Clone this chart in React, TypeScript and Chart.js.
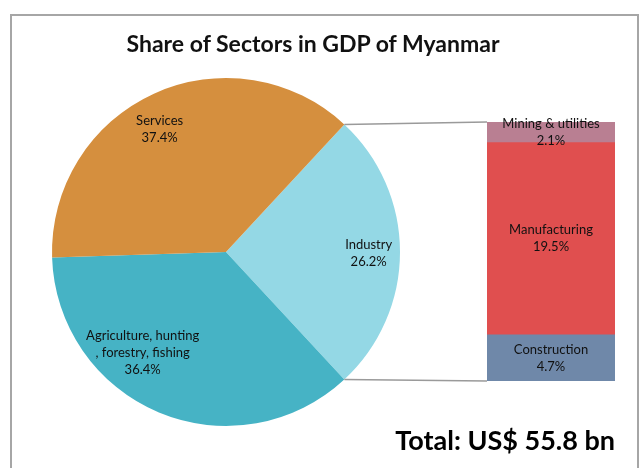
import React, { useEffect, useRef } from "react";
import { Chart, registerables } from "chart.js";

Chart.register(...registerables);

const pieCategories = ["Industry", "Agriculture, hunting , forestry, fishing", "Services"];
const pieLabelLines = [["Industry"], ["Agriculture, hunting", ", forestry, fishing"], ["Services"]];
const pieValues = [26.2, 36.4, 37.4];
const pieColors = ["#94D8E5", "#46B3C5", "#D58F3E"];

const barCategories = ["Construction", "Manufacturing", "Mining & utilities"];
const barValues = [4.7, 19.5, 2.1];
const barColors = ["#6F88A9", "#E04F4F", "#B97F92"];

const titleText = "Share of Sectors in GDP of Myanmar";
const totalText = "Total: US$ 55.8 bn";

const W = 640;
const H = 468;
const FONT = "Lato, 'Open Sans', sans-serif";

// label placement tweaks (relative to arc geometry)
const pieLabelAngleShift = [0.5, 17, -4];
const pieLabelRadius = [0.82, 0.75, 0.8];

export default function App() {
  const pieRef = useRef<HTMLCanvasElement>(null);
  const barRef = useRef<HTMLCanvasElement>(null);

  useEffect(() => {
    const total = pieValues.reduce((a, b) => a + b, 0);
    const rotation = 90 - (pieValues[0] / total) * 180;

    const pieLabelPlugin = {
      id: "pieLabels",
      afterDatasetsDraw(chart: any) {
        const ctx = chart.ctx;
        const meta = chart.getDatasetMeta(0);
        ctx.save();
        ctx.font = `13px ${FONT}`;
        ctx.fillStyle = "#111";
        ctx.textAlign = "center";
        ctx.textBaseline = "middle";
        meta.data.forEach((arc: any, i: number) => {
          const mid = (arc.startAngle + arc.endAngle) / 2 + (pieLabelAngleShift[i] * Math.PI) / 180;
          const r = arc.outerRadius * pieLabelRadius[i];
          const cx = arc.x + Math.cos(mid) * r;
          const cy = arc.y + Math.sin(mid) * r;
          const lines = [...pieLabelLines[i], pieValues[i].toFixed(1) + "%"];
          const lh = 17;
          const y0 = cy - ((lines.length - 1) * lh) / 2;
          lines.forEach((t, k) => ctx.fillText(t, cx, y0 + k * lh));
        });
        ctx.restore();
      },
    };

    const pie = new Chart(pieRef.current!, {
      type: "pie",
      data: {
        labels: pieCategories,
        datasets: [{ data: pieValues, backgroundColor: pieColors, borderWidth: 0 }],
      },
      options: {
        responsive: false,
        animation: false,
        rotation,
        layout: { padding: { left: 52, right: 240, top: 78, bottom: 42 } },
        plugins: { legend: { display: false }, tooltip: { enabled: false }, title: { display: false } },
      },
      plugins: [pieLabelPlugin],
    });

    const barSum = barValues.reduce((a, b) => a + b, 0);

    const barPlugin = {
      id: "barExtras",
      afterDatasetsDraw(chart: any) {
        const ctx = chart.ctx;
        const metas = barValues.map((_, i) => chart.getDatasetMeta(i));
        const topEl = metas[metas.length - 1].data[0];
        const botEl = metas[0].data[0];
        const left = botEl.x - botEl.width / 2;
        const topY = topEl.y;
        const botY = botEl.base;
        const arc: any = pie.getDatasetMeta(0).data[0];
        const p1 = { x: arc.x + Math.cos(arc.startAngle) * arc.outerRadius, y: arc.y + Math.sin(arc.startAngle) * arc.outerRadius };
        const p2 = { x: arc.x + Math.cos(arc.endAngle) * arc.outerRadius, y: arc.y + Math.sin(arc.endAngle) * arc.outerRadius };
        ctx.save();
        ctx.strokeStyle = "#9a9a9a";
        ctx.lineWidth = 1.5;
        ctx.beginPath();
        ctx.moveTo(p1.x, p1.y);
        ctx.lineTo(left, topY);
        ctx.moveTo(p2.x, p2.y);
        ctx.lineTo(left, botY);
        ctx.stroke();
        ctx.font = `13px ${FONT}`;
        ctx.fillStyle = "#111";
        ctx.textAlign = "center";
        ctx.textBaseline = "middle";
        metas.forEach((m: any, i: number) => {
          const el = m.data[0];
          const cy = (el.y + el.base) / 2;
          const lh = 17;
          ctx.fillText(barCategories[i], el.x, cy - lh / 2);
          ctx.fillText(barValues[i].toFixed(1) + "%", el.x, cy + lh / 2);
        });
        ctx.restore();
      },
    };

    const bar = new Chart(barRef.current!, {
      type: "bar",
      data: {
        labels: ["Industry"],
        datasets: barValues.map((v, i) => ({
          label: barCategories[i],
          data: [v],
          backgroundColor: barColors[i],
          borderWidth: 0,
          barPercentage: 1,
          categoryPercentage: 1,
        })),
      },
      options: {
        responsive: false,
        animation: false,
        layout: { padding: { left: 487, right: 25, top: 122, bottom: 87 } },
        scales: {
          x: { display: false, stacked: true },
          y: { display: false, stacked: true, min: 0, max: barSum },
        },
        plugins: { legend: { display: false }, tooltip: { enabled: false } },
      },
      plugins: [barPlugin],
    });

    return () => {
      bar.destroy();
      pie.destroy();
    };
  }, []);

  return (
    <div style={{ position: "absolute", left: 0, top: 0, width: W, height: H, background: "#fff", overflow: "hidden" }}>
      <div
        style={{
          position: "absolute",
          left: 10,
          top: 14,
          width: 625,
          height: 470,
          borderLeft: "2px solid #a6a6a6",
          borderTop: "2px solid #a6a6a6",
          borderRight: "2px solid #a6a6a6",
        }}
      />
      <canvas ref={pieRef} width={W} height={H} style={{ position: "absolute", left: 0, top: 0 }} />
      <canvas ref={barRef} width={W} height={H} style={{ position: "absolute", left: 0, top: 0 }} />
      <div
        style={{
          position: "absolute",
          left: 0,
          width: 626,
          top: 27,
          textAlign: "center",
          font: `bold 23px ${FONT}`,
          color: "#111",
          lineHeight: "32px",
          whiteSpace: "nowrap",
        }}
      >
        {titleText}
      </div>
      <div
        style={{
          position: "absolute",
          right: 25,
          top: 421,
          font: `bold 27px ${FONT}`,
          color: "#000",
          lineHeight: "38px",
          whiteSpace: "nowrap",
        }}
      >
        {totalText}
      </div>
    </div>
  );
}
